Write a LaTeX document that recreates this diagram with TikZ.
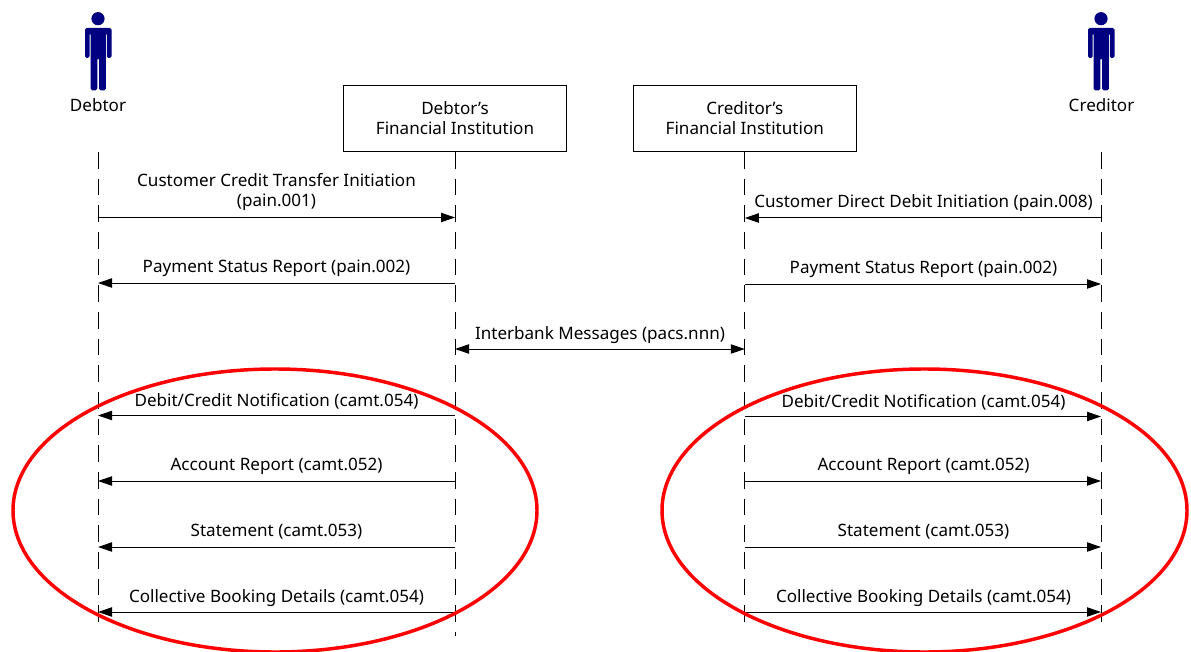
\documentclass[tikz,border=0pt]{standalone}
\usepackage{fontspec}
\setmainfont{Noto Sans}
\usetikzlibrary{arrows.meta}
\definecolor{actorblue}{RGB}{0,0,128}

\begin{document}
\begin{tikzpicture}[x=0.75pt,y=-0.75pt,
  instbox/.style={draw,line width=0.75pt,minimum width=167.5pt,minimum height=49.5pt,align=center,font=\fontsize{12.8}{15}\selectfont},
  actorlabel/.style={font=\fontsize{12.8}{15}\selectfont},
  msglabel/.style={align=center,font=\fontsize{12.8}{15}\selectfont},
  lifeline/.style={line width=0.75pt,dash pattern=on 12.5pt off 7.5pt},
  msg/.style={line width=0.75pt,-{Triangle[length=10.5pt,width=7pt]}},
  bothmsg/.style={line width=0.75pt,{Triangle[length=10.5pt,width=7pt]}-{Triangle[length=10.5pt,width=7pt]}},
  redring/.style={draw=red,line width=2.6pt},
  actorbody/.style={fill=actorblue,rounded corners=1.2pt}]
  \useasboundingbox (0,0) rectangle (1191,652);

  % Draw the two actors
  \foreach \ax in {0,1003} {
    \begin{scope}[shift={(\ax,0)}]
      \fill[actorblue] (98,18.7) circle (6.6);
      \fill[actorbody] (85,28) -- (111.5,28) -- (111.5,58) -- (106.8,58) -- (106.8,33) -- (105.9,33) -- (105.9,90.3) -- (99,90.3) -- (99,58) -- (97.3,58) -- (97.3,90.3) -- (90.5,90.3) -- (90.5,33) -- (89.6,33) -- (89.6,58) -- (85,58) -- cycle;
    \end{scope}
  }
  \node[actorlabel] (debtor) at (98,105) {Debtor};
  \node[actorlabel] (creditor) at (1101.5,105) {Creditor};

  % Draw the institutions
  \node[instbox] (debtorfi) at (455,118.5) {Debtor’s\\Financial Institution};
  \node[instbox] (creditorfi) at (744.8,118.5) {Creditor’s\\Financial Institution};

  % Ends of the lifelines
  \coordinate (dtop) at (98,152);
  \coordinate (dend) at (98,622);
  \coordinate (ctop) at (1101,152);
  \coordinate (cend) at (1101,622);
  \coordinate (dfiend) at (455,636);
  \coordinate (cfiend) at (744.8,622);

  \draw[lifeline] (dtop) -- (dend);
  \draw[lifeline] (debtorfi.south) -- (dfiend);
  \draw[lifeline] (creditorfi.south) -- (cfiend);
  \draw[lifeline] (ctop) -- (cend);

  % Left side messages
  \coordinate (da1) at (98,217.5); \coordinate (db1) at (455,217.5);
  \coordinate (da2) at (98,283);   \coordinate (db2) at (455,283);
  \coordinate (da3) at (98,415.5); \coordinate (db3) at (455,415.5);
  \coordinate (da4) at (98,481);   \coordinate (db4) at (455,481);
  \coordinate (da5) at (98,547);   \coordinate (db5) at (455,547);
  \coordinate (da6) at (98,612);   \coordinate (db6) at (455,612);

  \draw[msg] (da1) -- (db1);
  \draw[msg] (db2) -- (da2);
  \draw[msg] (db3) -- (da3);
  \draw[msg] (db4) -- (da4);
  \draw[msg] (db5) -- (da5);
  \draw[msg] (db6) -- (da6);

  \node[msglabel] (ltext1) at (276.5,192.5) {Customer Credit Transfer Initiation\\(pain.001)};
  \node[msglabel] (ltext2) at (276.5,268.5) {Payment Status Report (pain.002)};
  \node[msglabel] (ltext3) at (276.5,401) {Debit/Credit Notification (camt.054)};
  \node[msglabel] (ltext4) at (276.5,466.5) {Account Report (camt.052)};
  \node[msglabel] (ltext5) at (276.5,532) {Statement (camt.053)};
  \node[msglabel] (ltext6) at (276.5,598) {Collective Booking Details (camt.054)};

  % Right side messages
  \coordinate (ca1) at (744.8,218); \coordinate (cb1) at (1101,218);
  \coordinate (ca2) at (744.8,284); \coordinate (cb2) at (1101,284);
  \coordinate (ca3) at (744.8,416.5); \coordinate (cb3) at (1101,416.5);
  \coordinate (ca4) at (744.8,481); \coordinate (cb4) at (1101,481);
  \coordinate (ca5) at (744.8,547); \coordinate (cb5) at (1101,547);
  \coordinate (ca6) at (744.8,612); \coordinate (cb6) at (1101,612);

  \draw[msg] (cb1) -- (ca1);
  \draw[msg] (ca2) -- (cb2);
  \draw[msg] (ca3) -- (cb3);
  \draw[msg] (ca4) -- (cb4);
  \draw[msg] (ca5) -- (cb5);
  \draw[msg] (ca6) -- (cb6);

  \node[msglabel] (rtext1) at (923.5,203.5) {Customer Direct Debit Initiation (pain.008)};
  \node[msglabel] (rtext2) at (923.5,269) {Payment Status Report (pain.002)};
  \node[msglabel] (rtext3) at (923.5,402) {Debit/Credit Notification (camt.054)};
  \node[msglabel] (rtext4) at (923.5,466.5) {Account Report (camt.052)};
  \node[msglabel] (rtext5) at (923.5,532) {Statement (camt.053)};
  \node[msglabel] (rtext6) at (923.5,598) {Collective Booking Details (camt.054)};

  % Interbank messages in the middle
  \coordinate (ib1) at (455,349);
  \coordinate (ib2) at (744.8,349);
  \draw[bothmsg] (ib1) -- (ib2);
  \node[msglabel] (ibtext) at (600,335.5) {Interbank Messages (pacs.nnn)};

  % Red rings
  \draw[redring] (275,510.5) ellipse (262 and 141.5);
  \draw[redring] (924.5,510.5) ellipse (262.5 and 141.5);
\end{tikzpicture}
\end{document}
